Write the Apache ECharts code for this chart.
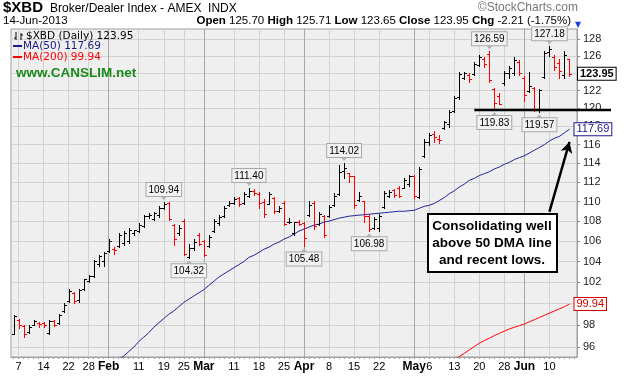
<!DOCTYPE html>
<html>
<head>
<meta charset="utf-8">
<script src="https://cdn.jsdelivr.net/npm/echarts@6/dist/echarts.min.js"></script>
<style>
  html, body { margin: 0; padding: 0; background: #fff; }
  #chart { width: 627px; height: 376px; }
</style>
</head>
<body>
<div id="chart"></div>
<script>
// trading days, Jan 4 - Jun 14 2013
const dates = [
  '01-04','01-07','01-08','01-09','01-10','01-11','01-14','01-15','01-16','01-17','01-18','01-22','01-23','01-24','01-25','01-28','01-29','01-30','01-31',
  '02-01','02-04','02-05','02-06','02-07','02-08','02-11','02-12','02-13','02-14','02-15','02-19','02-20','02-21','02-22','02-25','02-26','02-27','02-28',
  '03-01','03-04','03-05','03-06','03-07','03-08','03-11','03-12','03-13','03-14','03-15','03-18','03-19','03-20','03-21','03-22','03-25','03-26','03-27','03-28',
  '04-01','04-02','04-03','04-04','04-05','04-08','04-09','04-10','04-11','04-12','04-15','04-16','04-17','04-18','04-19','04-22','04-23','04-24','04-25','04-26','04-29','04-30',
  '05-01','05-02','05-03','05-06','05-07','05-08','05-09','05-10','05-13','05-14','05-15','05-16','05-17','05-20','05-21','05-22','05-23','05-24','05-28','05-29','05-30','05-31',
  '06-03','06-04','06-05','06-06','06-07','06-10','06-11','06-12','06-13','06-14'
];

const opens = [
  97.2, 98.5, 97.9, 97.4, 98.0, 98.2, 98.2, 97.3, 98.4, 98.2,
  99.3, 100.2, 101.0, 100.3, 101.4, 102.1, 102.6, 103.8, 104.0, 105.0,
  105.2, 105.5, 105.8, 106.0, 106.8, 107.0, 107.5, 108.5, 108.2, 108.6,
  109.3, 109.8, 107.6, 106.8, 108.0, 104.4, 105.3, 106.6, 106.0, 105.5,
  107.0, 107.8, 108.5, 109.6, 109.8, 110.4, 109.8, 110.6, 111.1, 110.8,
  109.9, 109.7, 110.4, 109.0, 109.8, 107.9, 106.8, 107.9, 107.8, 108.6,
  109.8, 107.7, 108.5, 108.5, 109.6, 110.8, 113.2, 113.0, 112.6, 110.2,
  110.0, 108.5, 107.3, 107.3, 109.4, 110.6, 111.2, 111.4, 111.4, 111.8,
  112.6, 110.5, 114.8, 116.3, 117.2, 116.6, 117.8, 118.3, 119.7, 121.3,
  123.5, 123.8, 123.9, 125.0, 125.7, 126.3, 122.2, 121.4, 122.9, 124.0,
  124.0, 125.3, 123.5, 122.0, 122.3, 119.8, 123.6, 126.5, 125.9, 125.2,
  123.8, 125.70
];
const highs = [
  98.9, 98.55, 98.0, 98.0, 98.5, 98.3, 98.3, 98.5, 98.5, 99.0,
  100.0, 101.35, 101.1, 101.4, 102.35, 102.7, 104.1, 104.6, 104.9, 106.2,
  105.4, 106.8, 107.0, 107.3, 107.15, 107.8, 108.6, 108.8, 108.95, 109.5,
  109.94, 109.9, 107.7, 107.6, 108.2, 105.7, 106.2, 106.8, 106.1, 106.6,
  108.2, 108.6, 109.5, 110.0, 110.5, 110.5, 111.0, 111.4, 111.3, 111.0,
  110.3, 111.0, 110.5, 109.5, 110.0, 108.3, 107.9, 108.1, 107.9, 110.0,
  110.0, 108.9, 108.6, 109.65, 110.85, 113.8, 114.02, 113.0, 112.6, 111.0,
  110.0, 108.6, 108.4, 108.7, 111.1, 111.2, 111.3, 111.6, 112.4, 112.8,
  112.75, 113.6, 116.6, 117.3, 117.5, 117.1, 118.6, 119.8, 121.4, 124.2,
  124.2, 124.0, 125.3, 126.1, 125.9, 126.59, 122.3, 121.7, 124.3, 124.8,
  125.9, 125.5, 123.7, 124.2, 122.4, 122.2, 126.6, 127.18, 126.1, 125.7,
  126.6, 125.71
];
const lows = [
  97.2, 97.7, 96.9, 97.3, 98.0, 97.85, 97.8, 97.2, 97.9, 98.1,
  99.2, 100.15, 100.05, 100.15, 101.25, 102.05, 102.5, 103.6, 103.6, 104.95,
  104.75, 105.45, 105.6, 105.8, 106.6, 106.95, 107.4, 108.3, 108.1, 108.4,
  109.2, 108.1, 105.6, 106.6, 104.6, 104.32, 105.1, 105.6, 104.5, 105.4,
  106.9, 107.6, 108.4, 109.5, 109.7, 109.5, 109.7, 110.5, 110.7, 109.3,
  108.4, 109.7, 108.8, 108.9, 107.6, 107.8, 106.6, 107.6, 105.48, 108.5,
  107.2, 107.6, 106.4, 108.4, 109.5, 110.7, 112.4, 112.0, 109.3, 110.0,
  107.9, 106.98, 107.2, 107.0, 109.3, 110.5, 110.5, 110.5, 111.4, 111.6,
  110.4, 110.4, 114.7, 116.0, 116.3, 116.2, 117.7, 117.9, 119.6, 121.1,
  123.3, 123.0, 123.8, 124.9, 124.7, 123.0, 119.83, 120.5, 122.7, 123.4,
  123.8, 123.8, 120.8, 121.8, 119.7, 119.57, 123.5, 126.0, 124.4, 123.4,
  123.4, 123.65
];
const closes = [
  98.8, 98.0, 97.2, 97.8, 98.4, 98.1, 98.0, 98.4, 98.0, 98.9,
  99.9, 101.2, 100.2, 101.3, 102.3, 102.6, 104.0, 104.5, 104.8, 106.0,
  105.1, 106.6, 106.8, 107.1, 107.15, 107.6, 108.5, 108.6, 108.8, 109.3,
  109.7, 108.2, 106.2, 107.3, 104.7, 105.3, 105.9, 105.7, 104.6, 106.4,
  108.0, 108.4, 109.3, 109.8, 110.3, 109.7, 110.8, 111.1, 110.9, 109.8,
  108.7, 110.8, 109.0, 109.3, 107.7, 107.9, 107.95, 107.7, 106.3, 109.6,
  107.5, 108.7, 106.6, 109.4, 110.6, 113.1, 113.5, 112.6, 109.6, 110.6,
  108.5, 107.2, 108.2, 108.5, 110.9, 111.0, 110.7, 110.6, 112.2, 112.6,
  110.6, 113.4, 116.3, 117.1, 116.8, 116.5, 118.5, 119.6, 121.2, 123.9,
  124.0, 123.3, 125.1, 125.9, 125.1, 123.2, 120.6, 120.5, 124.0, 124.6,
  125.5, 124.0, 121.5, 122.5, 119.8, 122.1, 126.4, 126.9, 124.7, 124.3,
  126.16, 123.95
];

// moving averages (null where the line is not drawn)
const ma50 = Array(21).fill(null).concat([
  94.95, 95.2, 95.6, 96.0, 96.5, 96.9, 97.3, 97.8, 98.2, 98.6,
  99.0, 99.3, 99.7, 100.1, 100.4, 100.7, 101.0, 101.3, 101.7, 102.1,
  102.5, 102.8, 103.1, 103.4, 103.7, 104.0, 104.4, 104.6, 104.9, 105.2,
  105.4, 105.7, 105.9, 106.2, 106.4, 106.7, 107.0, 107.2, 107.4, 107.6,
  107.7, 107.9, 108.0, 108.15, 108.3, 108.4, 108.5, 108.55, 108.6, 108.65,
  108.7, 108.75, 108.8, 108.85, 108.9, 108.95, 109.0, 109.0, 109.05, 109.1,
  109.3, 109.5, 109.6, 109.8, 110.1, 110.4, 110.8, 111.1, 111.5, 111.8,
  112.2, 112.4, 112.7, 112.9, 113.1, 113.4, 113.6, 113.9, 114.1, 114.4,
  114.6, 114.8, 115.1, 115.4, 115.7, 116.0, 116.4, 116.7, 116.9, 117.3, 117.69
]);
const ma200 = Array(88).fill(null).concat([
  94.95, 95.15, 95.45, 95.75, 96.05, 96.35, 96.6, 96.8, 97.05, 97.25,
  97.45, 97.65, 97.8, 97.95, 98.1, 98.3, 98.5, 98.7, 98.9, 99.1,
  99.3, 99.5, 99.7, 99.94
]);

// axis ticks
const weekTicks = ['01-07','01-14','01-22','01-28','02-01','02-11','02-19','02-25','03-01','03-11','03-18','03-25',
  '04-01','04-08','04-15','04-22','05-01','05-06','05-13','05-20','05-28','06-03','06-10'];
const weekLabels = ['7','14','22','28','Feb','11','19','25','Mar','11','18','25',
  'Apr','8','15','22','May','6','13','20','28','Jun','10'];
const monthTicks = ['02-01','03-01','04-01','05-01','06-03'];
const yTicks = [96, 98, 100, 102, 104, 106, 108, 110, 112, 114, 116, 118, 120, 122, 124, 126, 128];

// price callouts
const calloutIdx = [30, 35, 47, 58, 66, 71, 95, 96, 105, 107];
const calloutVal = [109.94, 104.32, 111.40, 105.48, 114.02, 106.98, 126.59, 119.83, 119.57, 127.18];
const calloutSide = ['top', 'bottom', 'top', 'bottom', 'top', 'bottom', 'top', 'bottom', 'bottom', 'top'];

const supportIdx = 92;
const supportLevel = 119.8;

const SANS = 'Liberation Sans, Arial, sans-serif';
const VERD = 'DejaVu Sans, Verdana, sans-serif';

const chart = echarts.init(document.getElementById('chart'), null, { renderer: 'canvas' });

const ohlcData = dates.map((d, i) => [
  i, opens[i], highs[i], lows[i], closes[i],
  i > 0 && closes[i] < closes[i - 1] ? 0 : 1
]);

function renderOhlc(params, api) {
  const i = api.value(0);
  const top = api.coord([i, api.value(2)]);
  const bot = api.coord([i, api.value(3)]);
  const x = Math.round(top[0]) + 0.5;
  const yO = Math.round(api.coord([i, api.value(1)])[1]) + 0.5;
  const yC = Math.round(api.coord([i, api.value(4)])[1]) + 0.5;
  const style = { stroke: api.value(5) ? '#000' : '#ff0000', lineWidth: 1 };
  return {
    type: 'group',
    children: [
      { type: 'line', shape: { x1: x, y1: Math.round(top[1]), x2: x, y2: Math.round(bot[1]) + 1 }, style },
      { type: 'line', shape: { x1: x - 2.5, y1: yO, x2: x, y2: yO }, style },
      { type: 'line', shape: { x1: x, y1: yC, x2: x + 2.5, y2: yC }, style }
    ]
  };
}

const isWeek = (idx, v) => weekTicks.includes(v);
const isMonth = (idx, v) => monthTicks.includes(v);
const last = dates.length - 1;

chart.setOption({
  animation: false,
  backgroundColor: '#fff',
  grid: {
    left: 11, top: 29, width: 566, height: 328,
    show: true, backgroundColor: '#efefef', borderColor: '#a0a0a0', borderWidth: 1
  },
  xAxis: [{
    type: 'category',
    data: dates.concat(['']),
    boundaryGap: true,
    axisLine: { show: true, lineStyle: { color: '#a0a0a0' } },
    axisTick: { show: true, interval: 0, length: 2, alignWithLabel: true, lineStyle: { color: '#a0a0a0' } },
    axisLabel: {
      interval: isWeek,
      margin: 4,
      fontSize: 11,
      fontFamily: SANS,
      color: '#000',
      formatter: v => {
        const t = weekLabels[weekTicks.indexOf(v)];
        return monthTicks.includes(v) ? '{b|' + t + '}' : t;
      },
      rich: { b: { fontWeight: 'bold', fontSize: 12, fontFamily: SANS, color: '#000' } }
    },
    splitLine: { show: true, interval: isWeek, alignWithLabel: true, lineStyle: { color: '#d2d2d2' } }
  }, {
    type: 'category',
    data: dates.concat(['']),
    boundaryGap: true,
    position: 'bottom',
    axisLine: { show: false },
    axisTick: { show: false },
    axisLabel: { show: false },
    splitLine: { show: true, interval: isMonth, alignWithLabel: true, lineStyle: { color: '#a8a8a8' } }
  }],
  yAxis: {
    type: 'log',
    min: 95.12,
    max: 129.24,
    position: 'right',
    axisLine: { show: true, lineStyle: { color: '#a0a0a0' } },
    axisTick: { show: true, length: 3, customValues: yTicks, lineStyle: { color: '#888' } },
    axisLabel: { customValues: yTicks, margin: 6, fontSize: 11, fontFamily: SANS, color: '#222' },
    splitLine: { show: true, lineStyle: { color: '#d2d2d2' } }
  },
  series: [{
    name: 'MA(50)',
    type: 'line',
    data: ma50,
    showSymbol: false,
    z: 2,
    lineStyle: { color: '#24249a', width: 1 },
    endLabel: {
      show: true, distance: 5, formatter: p => p.value.toFixed(2),
      fontSize: 11, fontFamily: SANS, color: '#1a1a8a',
      backgroundColor: '#fff', borderColor: '#1a1a8a', borderWidth: 1, padding: [1, 2, 0, 2]
    }
  }, {
    name: 'MA(200)',
    type: 'line',
    data: ma200,
    showSymbol: false,
    z: 2,
    lineStyle: { color: '#ff0000', width: 1 },
    endLabel: {
      show: true, distance: 5, formatter: p => p.value.toFixed(2),
      fontSize: 11, fontFamily: SANS, color: '#cc0000',
      backgroundColor: '#fff', borderColor: '#dd0000', borderWidth: 1, padding: [1, 2, 0, 2]
    }
  }, {
    name: '$XBD',
    type: 'custom',
    renderItem: renderOhlc,
    data: ohlcData,
    encode: { x: 0, y: [1, 2, 3, 4] },
    z: 3,
    markPoint: {
      silent: true,
      data: calloutIdx.map((idx, k) => {
        const up = calloutSide[k] === 'top';
        return {
          coord: [idx, calloutVal[k]],
          value: calloutVal[k],
          symbol: up ? 'path://M0,0L10,0L5,6Z' : 'triangle',
          symbolSize: [7, 4],
          symbolOffset: [0, up ? -4 : 4],
          itemStyle: { color: '#b4b4b4' },
          label: {
            show: true, position: up ? 'top' : 'bottom', distance: 0,
            formatter: p => p.value.toFixed(2),
            fontSize: 10, fontFamily: SANS, color: '#000',
            backgroundColor: '#f2f2f2', borderColor: '#a8a8a8', borderWidth: 1, padding: [2, 2, 1, 2]
          }
        };
      }).concat([{
        coord: [last, closes[last]],
        value: closes[last],
        symbol: 'circle',
        symbolSize: 1,
        itemStyle: { color: 'rgba(0,0,0,0)' },
        label: {
          show: true, position: 'right', distance: 8,
          formatter: p => p.value.toFixed(2),
          fontSize: 11, fontWeight: 'bold', fontFamily: SANS, color: '#000',
          backgroundColor: '#fff', borderColor: '#000', borderWidth: 1, padding: [1, 2, 0, 2]
        }
      }])
    },
    markLine: {
      silent: true,
      symbol: ['none', 'arrow'],
      symbolSize: [9, 11],
      label: { show: false },
      lineStyle: { color: '#000', width: 2.5, type: 'solid' },
      data: [[{ coord: [107, 108.95] }, { coord: [111, 116.3] }]]
    }
  }]
});

// support line reaches past the plot into the price scale
const sp = chart.convertToPixel({ xAxisIndex: 0, yAxisIndex: 0 }, [supportIdx, supportLevel]);
const spY = Math.round(sp[1]);

chart.setOption({
  graphic: [
    { type: 'line', shape: { x1: sp[0], y1: spY, x2: 611, y2: spY }, style: { stroke: '#000', lineWidth: 2.5 }, z: 20 },
    { type: 'text', x: 3, y: 15, style: { text: '$XBD', font: 'bold 15px ' + SANS, fill: '#000', verticalAlign: 'bottom' } },
    { type: 'text', x: 50, y: 15, style: { text: 'Broker/Dealer Index - AMEX  INDX', font: '12px ' + SANS, fill: '#000', verticalAlign: 'bottom' } },
    { type: 'text', x: 578, y: 14, style: { text: '\u00a9StockCharts.com', font: '12px ' + SANS, fill: '#777', align: 'right', verticalAlign: 'bottom' } },
    { type: 'text', x: 3, y: 27, style: { text: '14-Jun-2013', font: '11.5px ' + SANS, fill: '#000', verticalAlign: 'bottom' } },
    { type: 'text', x: 571, y: 27, style: {
      text: '{b|Open} 125.70 {b|High} 125.71 {b|Low} 123.65 {b|Close} 123.95 {b|Chg} -2.21 (-1.75%)',
      font: '11.5px ' + SANS, fill: '#000', align: 'right', verticalAlign: 'bottom',
      rich: { b: { fontWeight: 'bold', fontSize: 11.5, fontFamily: SANS, fill: '#000' } }
    } },
    { type: 'text', x: 578, y: 25, style: { text: '\u25BC', font: '8px ' + VERD, fill: '#1a3fd6', align: 'center', verticalAlign: 'middle' } },
    // legend
    { type: 'polyline', shape: { points: [[16, 32], [16, 40]] }, style: { stroke: '#000', lineWidth: 1 } },
    { type: 'polyline', shape: { points: [[14, 38], [16, 38]] }, style: { stroke: '#000', lineWidth: 1 } },
    { type: 'polyline', shape: { points: [[21, 33], [21, 40]] }, style: { stroke: '#000', lineWidth: 1 } },
    { type: 'polyline', shape: { points: [[21, 35], [23, 35]] }, style: { stroke: '#000', lineWidth: 1 } },
    { type: 'text', x: 26, y: 36, style: { text: '$XBD (Daily) 123.95', font: '10.5px ' + VERD, fill: '#000', verticalAlign: 'middle' } },
    { type: 'line', shape: { x1: 13, y1: 46, x2: 22, y2: 46 }, style: { stroke: '#1a1a8a', lineWidth: 2 } },
    { type: 'text', x: 23, y: 46, style: { text: 'MA(50) 117.69', font: '10.5px ' + VERD, fill: '#1a1a8a', verticalAlign: 'middle' } },
    { type: 'line', shape: { x1: 13, y1: 57, x2: 22, y2: 57 }, style: { stroke: '#ff0000', lineWidth: 2 } },
    { type: 'text', x: 23, y: 57, style: { text: 'MA(200) 99.94', font: '10.5px ' + VERD, fill: '#ff0000', verticalAlign: 'middle' } },
    { type: 'text', x: 16, y: 73, style: { text: 'www.CANSLIM.net', font: 'bold 13.5px ' + SANS, fill: '#1a8a1a', verticalAlign: 'middle' } },
    // note box
    { type: 'rect', shape: { x: 428, y: 214, width: 129, height: 58 }, style: { fill: '#fff', stroke: '#000', lineWidth: 2 }, z: 20 },
    { type: 'text', x: 492, y: 243, z: 21, style: {
      text: 'Consolidating well\nabove 50 DMA line\nand recent lows.',
      font: 'bold 13.5px ' + SANS, fill: '#000', align: 'center', verticalAlign: 'middle', lineHeight: 17
    } }
  ]
});
</script>
</body>
</html>
